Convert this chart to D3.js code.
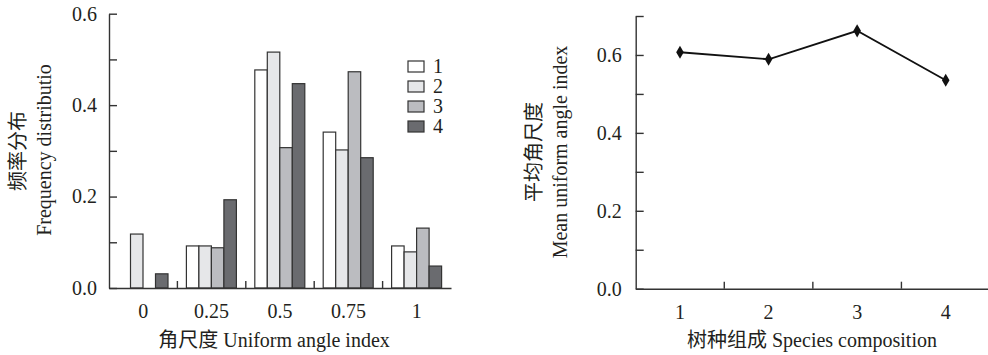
<!DOCTYPE html>
<html lang="zh">
<head>
    <meta charset="utf-8" />
    <title>角尺度 Uniform angle index</title>
    <script src="https://cdn.jsdelivr.net/npm/d3@7"></script>
    <style type="text/css">
        body { margin: 0; background: #fff; }
        text { fill: #231f20; }
        .axis path, .axis line { stroke: #333; stroke-width: 1.4; }
    </style>
</head>
<body>
    <svg id="canvas" width="988" height="355" xmlns="http://www.w3.org/2000/svg"></svg>
    <script type="text/javascript">
        // 左图：角尺度频率分布
        var angleClasses = ["0", "0.25", "0.5", "0.75", "1"];
        var seriesNames = ["1", "2", "3", "4"];
        var freq1 = [0, 0.092, 0.477, 0.341, 0.092];
        var freq2 = [0.118, 0.092, 0.516, 0.302, 0.079];
        var freq3 = [0, 0.088, 0.307, 0.473, 0.131];
        var freq4 = [0.031, 0.193, 0.447, 0.285, 0.048];
        var seriesColors = ["#ffffff", "#e6e7e9", "#bbbcc0", "#6a6b6f"];
        var freqTicks = [0, 0.1, 0.2, 0.3, 0.4, 0.5, 0.6];

        // 右图：平均角尺度
        var compositions = ["1", "2", "3", "4"];
        var meanAngle = [0.607, 0.589, 0.662, 0.535];
        var meanTicks = [0, 0.1, 0.2, 0.3, 0.4, 0.5, 0.6, 0.7];

        var FONT = "'Liberation Serif', 'Noto Sans CJK SC', serif";
        var svg = d3.select("#canvas");
        var series = [freq1, freq2, freq3, freq4];
        var fmt = function (d) {
            return Math.round(d * 10) % 2 === 0 ? d3.format(".1f")(d) : "";
        };
        // 坐标轴文字统一成衬线体
        function serifAxis(g) {
            g.attr("font-family", FONT).attr("font-size", 20);
            g.selectAll("text").attr("fill", "#231f20");
        }

        // ---------- 左图 ----------
        var x0 = d3.scaleBand().domain(angleClasses).range([109, 451]);
        var x1 = d3.scaleBand().domain(seriesNames)
            .range([9, x0.bandwidth() - 9.4]);
        var y = d3.scaleLinear().domain([0, 0.6]).range([288, 13.7]);

        var left = svg.append("g").attr("font-family", FONT).attr("font-size", 20);

        left.append("g")
            .attr("class", "axis")
            .attr("transform", "translate(109,0)")
            .call(d3.axisLeft(y).tickValues(freqTicks).tickFormat(fmt)
                .tickSizeInner(-8).tickSizeOuter(0).tickPadding(12))
            .call(serifAxis);

        var groups = left.selectAll(".grp")
                .data(angleClasses)
            .enter().append("g")
                .attr("class", "grp")
                .attr("transform", function (d) { return "translate(" + x0(d) + ",0)"; });

        groups.selectAll("rect")
                .data(function (d, i) {
                    return series.map(function (s, k) { return { k: k, v: s[i] }; })
                        .filter(function (o) { return o.v > 0; });
                })
            .enter().append("rect")
                .attr("x", function (o) { return x1(seriesNames[o.k]); })
                .attr("width", x1.bandwidth())
                .attr("y", function (o) { return y(o.v); })
                .attr("height", function (o) { return y(0) - y(o.v); })
                .attr("fill", function (o) { return seriesColors[o.k]; })
                .attr("stroke", "#333")
                .attr("stroke-width", 1.2);

        left.append("g")
            .attr("class", "axis")
            .attr("transform", "translate(0,288)")
            .call(d3.axisBottom(x0).tickSize(0).tickPadding(16))
            .call(serifAxis);

        // 组间短刻度
        left.selectAll(".sep")
                .data(angleClasses.slice(1))
            .enter().append("line")
                .attr("x1", function (d) { return x0(d); })
                .attr("x2", function (d) { return x0(d); })
                .attr("y1", 288).attr("y2", 281)
                .attr("stroke", "#333").attr("stroke-width", 1.4);

        var legend = left.selectAll(".leg")
                .data(seriesNames)
            .enter().append("g")
                .attr("transform", function (d, i) { return "translate(408," + (61 + i * 20) + ")"; });
        legend.append("rect")
            .attr("width", 16).attr("height", 11)
            .attr("fill", function (d, i) { return seriesColors[i]; })
            .attr("stroke", "#333").attr("stroke-width", 1.2);
        legend.append("text")
            .attr("x", 25).attr("y", 12)
            .text(function (d) { return d; });

        left.append("text")
            .attr("x", 274).attr("y", 347)
            .attr("text-anchor", "middle")
            .text("角尺度 Uniform angle index");

        left.append("text")
            .attr("transform", "translate(18,151) rotate(-90)")
            .attr("text-anchor", "middle")
            .attr("dominant-baseline", "central")
            .text("频率分布");
        left.append("text")
            .attr("transform", "translate(44,150) rotate(-90)")
            .attr("text-anchor", "middle")
            .attr("dominant-baseline", "central")
            .text("Frequency distributio");

        // ---------- 右图 ----------
        var xr = d3.scaleBand().domain(compositions).range([635.7, 990]);
        var yr = d3.scaleLinear().domain([0, 0.7]).range([288.7, 16]);

        var right = svg.append("g").attr("font-family", FONT).attr("font-size", 20);

        right.append("g")
            .attr("class", "axis")
            .attr("transform", "translate(635.7,0)")
            .call(d3.axisLeft(yr).tickValues(meanTicks).tickFormat(fmt)
                .tickSizeInner(-8).tickSizeOuter(0).tickPadding(14))
            .call(serifAxis);

        right.append("g")
            .attr("class", "axis")
            .attr("transform", "translate(0,288.7)")
            .call(d3.axisBottom(xr).tickSize(0).tickPadding(16))
            .call(serifAxis);

        right.selectAll(".sep")
                .data(compositions.slice(1))
            .enter().append("line")
                .attr("x1", function (d) { return xr(d); })
                .attr("x2", function (d) { return xr(d); })
                .attr("y1", 288.7).attr("y2", 281.7)
                .attr("stroke", "#333").attr("stroke-width", 1.4);

        var cx = function (d, i) { return xr(compositions[i]) + xr.bandwidth() / 2; };

        right.append("path")
            .datum(meanAngle)
            .attr("fill", "none")
            .attr("stroke", "#111")
            .attr("stroke-width", 1.8)
            .attr("d", d3.line().x(cx).y(function (d) { return yr(d); }));

        right.selectAll(".pt")
                .data(meanAngle)
            .enter().append("path")
                .attr("transform", function (d, i) { return "translate(" + cx(d, i) + "," + yr(d) + ")"; })
                .attr("d", d3.symbol().type(d3.symbolDiamond).size(50))
                .attr("fill", "#111");

        right.append("text")
            .attr("x", 812).attr("y", 347)
            .attr("text-anchor", "middle")
            .text("树种组成 Species composition");

        right.append("text")
            .attr("transform", "translate(534,152) rotate(-90)")
            .attr("text-anchor", "middle")
            .attr("dominant-baseline", "central")
            .text("平均角尺度");
        right.append("text")
            .attr("transform", "translate(560,152) rotate(-90)")
            .attr("text-anchor", "middle")
            .attr("dominant-baseline", "central")
            .text("Mean uniform angle index");
    </script>
</body>
</html>
